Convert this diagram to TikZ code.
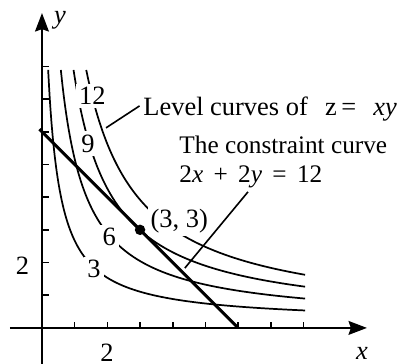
\documentclass[tikz,border=0pt]{standalone}
\usepackage{fontspec}
\setmainfont{Liberation Serif}
\usetikzlibrary{arrows.meta}
\begin{document}
\begin{tikzpicture}[x=0.5cm,y=0.5cm,
  lab/.style={inner sep=0pt,font=\fontsize{11.5}{13}\selectfont},
  cval/.style={lab,fill=white,inner sep=1.5pt},
  axis/.style={line width=0.9pt,-{Stealth[length=8pt,width=6pt,inset=1pt]}},
  curve/.style={line width=0.75pt},
  leader/.style={line width=0.7pt}]
  \useasboundingbox (-1.284,-1.10) rectangle (10.89,10.03);
  % axes
  \coordinate (xl) at (-0.98,0);
  \coordinate (xr) at (9.94,0);
  \coordinate (yb) at (0,-1.2);
  \coordinate (yt) at (0,9.63);
  \draw[axis] (xl) -- (xr);
  \draw[axis] (yb) -- (yt);
  % ticks
  \foreach \t in {1,...,8}{
    \draw[line width=0.7pt] (\t,0) -- (\t,0.17);
    \draw[line width=0.7pt] (0,\t) -- (0.22,\t);
  }
  \node[lab] (xlab) at (9.79,-0.78) {\textit{x}};
  \node[lab] (ylab) at (0.55,9.42) {\textit{y}};
  \node[lab] (xtwo) at (1.99,-0.76) {2};
  \node[lab] (ytwo) at (-0.60,1.91) {2};
  % level curves z = xy
  \foreach \c in {3,6,9,12}{
    \pgfmathsetmacro\xs{\c/7.72-0.2}
    \draw[curve] plot[domain=\xs:8.05,samples=160,smooth] (\x,{\c/(\x+0.2)+0.17});
  }
  % constraint line
  \coordinate (ca) at (-0.08,6.08);
  \coordinate (cb) at (6,0);
  \draw[line width=1.3pt] (ca) -- (cb);
  % curve values
  \foreach \p/\v/\n in {1.54/7.09/twelve,1.41/5.64/nine,2.06/2.78/six,1.59/1.80/three}{
    \node[cval] (c\n) at (\p,\v) {};
  }
  \node[cval] at (ctwelve) {12};
  \node[cval] at (cnine) {9};
  \node[cval] at (csix) {6};
  \node[cval] at (cthree) {3};
  % tangent point
  \node[lab,fill=white,inner sep=1pt,anchor=base west] (pt) at (3.24,3.06) {(3, 3)};
  \fill (3,3) circle (0.16);
  % texts
  \node[lab,anchor=base west] (lvl) at (3.09,6.51) {Level curves of};
  \node[lab,anchor=base west] (zeq) at (8.65,6.51) {z\,=};
  \node[lab,anchor=base west] (xy) at (10.12,6.51) {\textit{xy}};
  \node[lab,font=\fontsize{11}{13}\selectfont,anchor=base west] (cons) at (4.19,5.35) {The constraint curve};
  \node[lab,font=\fontsize{11}{13}\selectfont,anchor=base west] (ceq) at (4.19,4.46)
    {2\textit{x}\hspace{4.5pt}+\hspace{4.5pt}2\textit{y}\hspace{4.5pt}=\hspace{4.5pt}12};
  % leaders
  \coordinate (lend) at (1.96,6.12);
  \draw[leader] ([xshift=-1.5pt]lvl.west) -- (lend);
  \coordinate (ctop) at (6.30,4.16);
  \coordinate (cend) at (4.37,1.83);
  \draw[leader] (ctop) -- (cend);
\end{tikzpicture}
\end{document}
